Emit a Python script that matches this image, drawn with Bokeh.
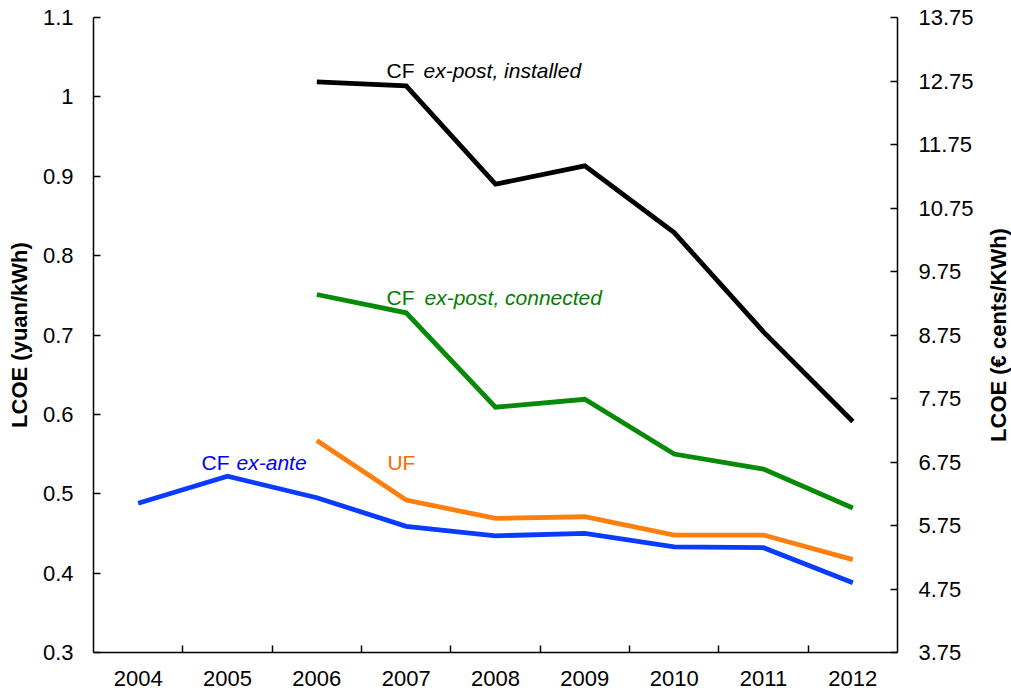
import math
from bokeh.plotting import figure
from bokeh.layouts import row
from bokeh.models import Range1d, LinearAxis, FixedTicker, Label
from bokeh.core.properties import value
from bokeh.embed import file_html
from bokeh.resources import INLINE

nan = float("nan")

years = ["2004", "2005", "2006", "2007", "2008", "2009", "2010", "2011", "2012"]
cf_ex_ante = [0.488, 0.522, 0.495, 0.459, 0.447, 0.450, 0.433, 0.432, 0.388]
uf = [nan, nan, 0.567, 0.492, 0.469, 0.471, 0.448, 0.448, 0.417]
cf_ex_post_connected = [nan, nan, 0.751, 0.728, 0.609, 0.619, 0.550, 0.531, 0.482]
cf_ex_post_installed = [nan, nan, 1.019, 1.014, 0.890, 0.913, 0.829, 0.704, 0.591]

left_ticks = [0.3, 0.4, 0.5, 0.6, 0.7, 0.8, 0.9, 1.0, 1.1]
left_labels = ["0.3", "0.4", "0.5", "0.6", "0.7", "0.8", "0.9", "1", "1.1"]
right_ticks = [3.75, 4.75, 5.75, 6.75, 7.75, 8.75, 9.75, 10.75, 11.75, 12.75, 13.75]
right_labels = ["3.75", "4.75", "5.75", "6.75", "7.75", "8.75", "9.75", "10.75", "11.75", "12.75", "13.75"]

left_title = "LCOE (yuan/kWh)"
right_title = "LCOE (€ cents/KWh)"

idx = list(range(len(years)))

FONT = "Liberation Sans"

p = figure(frame_width=804, frame_height=635,
           x_range=Range1d(-0.5, len(years) - 0.5),
           y_range=Range1d(left_ticks[0], left_ticks[-1]),
           output_backend="svg", toolbar_location=None,
           min_border_left=93, min_border_right=88,
           min_border_top=17, min_border_bottom=40)
p.extra_y_ranges = {"eur": Range1d(right_ticks[0], right_ticks[-1])}
p.xgrid.visible = False
p.ygrid.visible = False
p.outline_line_color = None
p.background_fill_color = "white"
p.border_fill_color = "white"

# x axis
xa = p.xaxis[0]
xa.ticker = FixedTicker(ticks=idx, minor_ticks=[i + 0.5 for i in idx[:-1]])
xa.major_label_overrides = {i: y for i, y in zip(idx, years)}
xa.major_tick_in = 0
xa.major_tick_out = 0
xa.minor_tick_in = 7
xa.minor_tick_out = 0
xa.minor_tick_line_color = "black"
xa.minor_tick_line_width = 1.5
xa.axis_line_color = "black"
xa.axis_line_width = 1.5
xa.major_label_text_font = FONT
xa.major_label_text_font_size = "22px"
xa.major_label_text_color = "black"
xa.major_label_standoff = 18

# left y axis
ya = p.yaxis[0]
ya.ticker = FixedTicker(ticks=left_ticks)
ya.major_label_overrides = {t: l for t, l in zip(left_ticks, left_labels)}
ya.major_tick_in = 7
ya.major_tick_out = 0
ya.minor_tick_in = 0
ya.minor_tick_out = 0
ya.axis_line_color = "black"
ya.axis_line_width = 1.5
ya.major_tick_line_width = 1.5
ya.major_label_text_font = FONT
ya.major_label_text_font_size = "22px"
ya.major_label_text_color = "black"
ya.major_label_standoff = 20
ya.axis_label = left_title
ya.axis_label_text_font = FONT
ya.axis_label_text_font_style = "bold"
ya.axis_label_text_font_size = "22px"
ya.axis_label_text_color = "black"
ya.axis_label_standoff = 8

# right y axis (ticks and labels)
ra = LinearAxis(y_range_name="eur", ticker=FixedTicker(ticks=right_ticks))
ra.major_label_overrides = {t: l for t, l in zip(right_ticks, right_labels)}
ra.major_tick_in = 7
ra.major_tick_out = 0
ra.minor_tick_in = 0
ra.minor_tick_out = 0
ra.axis_line_color = "black"
ra.axis_line_width = 1.5
ra.major_tick_line_width = 1.5
ra.major_label_text_font = FONT
ra.major_label_text_font_size = "22px"
ra.major_label_text_color = "black"
ra.major_label_standoff = 21
p.add_layout(ra, "right")

LW = 4.8
p.line(idx, cf_ex_ante, line_color="#0A3CFF", line_width=LW, line_join="miter")
p.line(idx, uf, line_color="#FF7F0E", line_width=LW, line_join="miter")
p.line(idx, cf_ex_post_connected, line_color="#078A07", line_width=LW, line_join="miter")
p.line(idx, cf_ex_post_installed, line_color="black", line_width=LW, line_join="miter")

# annotations: (normal part, italic part, x, y baseline, italic offset, color)
annotations = [
    ("CF", "ex-post, installed", 2.78, 1.024, 37, "black"),
    ("CF", "ex-post, connected", 2.78, 0.738, 38, "#008000"),
    ("CF", "ex-ante", 0.71, 0.530, 35, "#0000FF"),
    ("UF", "", 2.79, 0.530, 0, "#FF6A00"),
]
for normal, italic, ax, ay, off, col in annotations:
    p.add_layout(Label(x=ax, y=ay, y_offset=7, text=normal, text_font=FONT,
                       text_font_size="21px", text_color=col,
                       text_baseline="alphabetic", text_align="left"))
    if italic:
        p.add_layout(Label(x=ax, y=ay, x_offset=off, y_offset=7, text=italic,
                           text_font=FONT, text_font_size="21px",
                           text_font_style="italic", text_color=col,
                           text_baseline="alphabetic", text_align="left"))

# narrow side panel carrying the right axis title, reading bottom to top
p2 = figure(width=26, frame_height=635,
            x_range=Range1d(0, 1), y_range=Range1d(0, 1),
            output_backend="svg", toolbar_location=None,
            x_axis_location=None, y_axis_location=None,
            min_border_left=0, min_border_right=0,
            min_border_top=17, min_border_bottom=40)
p2.xgrid.visible = False
p2.ygrid.visible = False
p2.outline_line_color = None
p2.background_fill_color = "white"
p2.border_fill_color = "white"
p2.text(x=[0.5], y=[0.5], text=[right_title], angle=math.pi / 2,
        text_font=value(FONT), text_font_size="22px", text_font_style="bold",
        text_color="black", text_align="center", text_baseline="middle")

layout = row(p, p2, spacing=0)

open("out.html", "w").write(file_html(layout, INLINE))
